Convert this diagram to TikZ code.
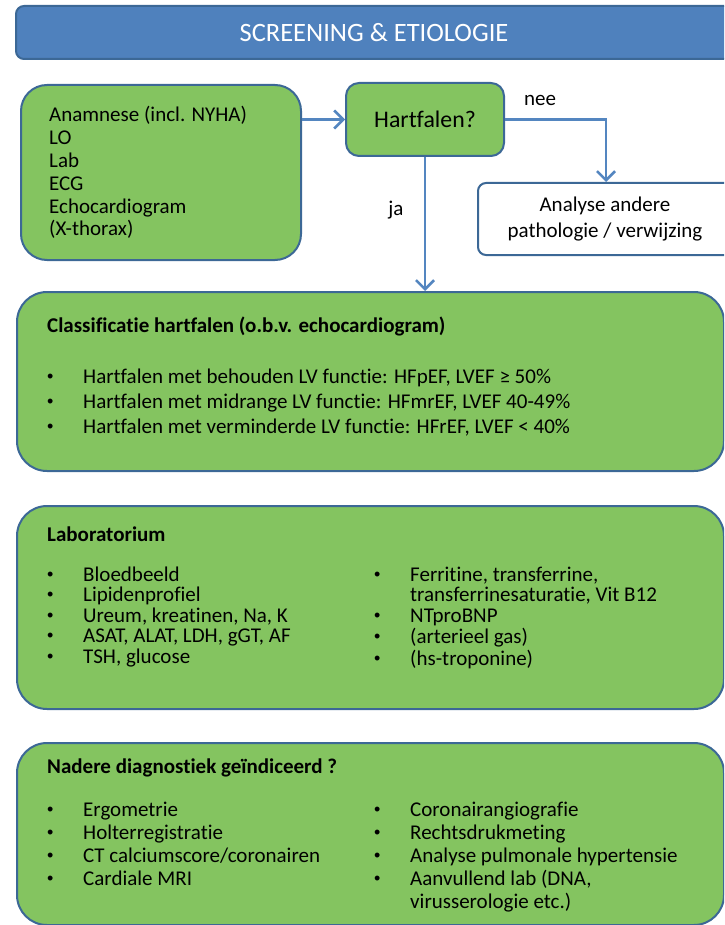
\documentclass[tikz,border=0pt]{standalone}
\usepackage{fontspec}
\setmainfont[Ligatures=NoCommon]{Carlito}
\newfontfamily\bulfont{Liberation Sans}
\usetikzlibrary{arrows.meta}
\definecolor{hgreen}{RGB}{132,196,96}
\definecolor{hborder}{RGB}{60,104,150}
\definecolor{hblue}{RGB}{79,129,189}
\definecolor{hline}{RGB}{84,134,192}
\newcommand{\bul}{\raisebox{1pt}{\bulfont\fontsize{18}{18}\selectfont •}}
\tikzset{
  gbox/.style={draw=hborder, line width=2pt, fill=hgreen, inner sep=0pt, anchor=north west},
  wbox/.style={draw=hborder, line width=2pt, fill=white, inner sep=0pt, anchor=north west, rounded corners=8pt},
  tbar/.style={draw=hborder, line width=2pt, fill=hblue, inner sep=0pt, anchor=north west, rounded corners=8pt},
  arr/.style={draw=hline, line width=2.6pt, -{Straight Barb[length=9pt,width=18pt,line width=2.6pt]}},
  lbl/.style={font=\fontsize{21}{24}\selectfont, inner sep=0pt},
  head/.style={font=\bfseries\fontsize{21}{24}\selectfont, inner sep=0pt, anchor=base west},
  lst/.style={inner sep=0pt, anchor=base west},
}
\begin{document}
\begin{tikzpicture}[x=1pt,y=-1pt]
\useasboundingbox (0,0) rectangle (724,925);
\clip (0,0) rectangle (724,925);
% title
\node[tbar, minimum width=718pt, minimum height=53pt] (title) at (15,5) {};
\node[font=\fontsize{26.5}{30}\selectfont, text=white, inner sep=0pt] (titletext) at (374,33) {SCREENING \& ETIOLOGIE};
% first row
\node[gbox, rounded corners=26pt, minimum width=280pt, minimum height=175pt] (box1) at (20,84) {};
\node[lst] (box1text) at (49,122) {\fontsize{21}{22.8}\selectfont\begin{tabular}[t]{@{}l@{}}Anamnese (incl. NYHA)\\LO\\Lab\\ECG\\Echocardiogram\\(X-thorax)\end{tabular}};
\node[gbox, rounded corners=13pt, minimum width=158pt, minimum height=73pt] (hf) at (345,82) {};
\node[font=\fontsize{23.8}{28}\selectfont, inner sep=0pt] (hftext) at (hf.center) {Hartfalen?};
\node[wbox, minimum width=256pt, minimum height=72pt] (an) at (477,182) {};
\node[align=center, font=\fontsize{21}{26}\selectfont, inner sep=0pt] (antext) at (605,219) {Analyse andere\\pathologie / verwijzing};
% classification
\node[gbox, rounded corners=30pt, minimum width=707pt, minimum height=179pt] (cls) at (16,291) {};
\node[head] (clshead) at (47,332) {Classificatie hartfalen (o.b.v. echocardiogram)};
\node[lst] (clslist) at (47,383) {\fontsize{21}{25}\selectfont\begin{tabular}[t]{@{}p{36pt}@{}l@{}}
\bul & Hartfalen met behouden LV functie: HFpEF, LVEF ≥ 50\%\\
\bul & Hartfalen met midrange LV functie: HFmrEF, LVEF 40-49\%\\
\bul & Hartfalen met verminderde LV functie: HFrEF, LVEF < 40\%
\end{tabular}};
% laboratorium
\node[gbox, rounded corners=30pt, minimum width=707pt, minimum height=203pt] (lab) at (16,505) {};
\node[head] (labhead) at (47,541) {Laboratorium};
\node[lst] (lableft) at (47,581) {\fontsize{21}{20.5}\selectfont\begin{tabular}[t]{@{}p{36pt}@{}l@{}}
\bul & Bloedbeeld\\
\bul & Lipidenprofiel\\
\bul & Ureum, kreatinen, Na, K\\
\bul & ASAT, ALAT, LDH, gGT, AF\\
\bul & TSH, glucose
\end{tabular}};
\node[lst] (labright) at (374,581) {\fontsize{21}{20.5}\selectfont\begin{tabular}[t]{@{}p{36pt}@{}l@{}}
\bul & Ferritine, transferrine,\\
 & transferrinesaturatie, Vit B12\\
\bul & NTproBNP\\
\bul & (arterieel gas)\\
\bul & (hs-troponine)
\end{tabular}};
% nadere diagnostiek
\node[gbox, rounded corners=30pt, minimum width=707pt, minimum height=182pt] (nad) at (16,742) {};
\node[head] (nadhead) at (47,773) {Nadere diagnostiek geïndiceerd ?};
\node[lst] (nadleft) at (47,816) {\fontsize{21}{23}\selectfont\begin{tabular}[t]{@{}p{36pt}@{}l@{}}
\bul & Ergometrie\\
\bul & Holterregistratie\\
\bul & CT calciumscore/coronairen\\
\bul & Cardiale MRI
\end{tabular}};
\node[lst] (nadright) at (374,816) {\fontsize{21}{23}\selectfont\begin{tabular}[t]{@{}p{36pt}@{}l@{}}
\bul & Coronairangiografie\\
\bul & Rechtsdrukmeting\\
\bul & Analyse pulmonale hypertensie\\
\bul & Aanvullend lab (DNA,\\
 & virusserologie etc.)
\end{tabular}};
% connectors
\draw[arr] (hf.west -| box1.east) -- (hf.west);
\draw[arr] (hf.east) -| (an.north);
\draw[arr] (hf.south) -- (hf.south |- cls.north);
\node[lbl] (nee) at (540,100) {nee};
\node[lbl] (ja) at (396,210) {ja};
\end{tikzpicture}
\end{document}
